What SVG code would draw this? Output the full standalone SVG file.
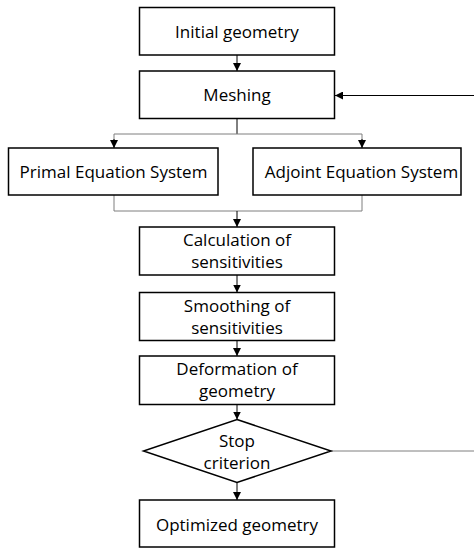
<svg xmlns="http://www.w3.org/2000/svg" width="474" height="548" viewBox="0 0 474 548">
<style>
.box{fill:#fff;stroke:#000;stroke-width:1.5}
.t{font-family:"Open Sans","Liberation Sans",sans-serif;font-size:17px;fill:#000;text-anchor:middle}
.c{fill:none;stroke:#000;stroke-width:1}
.g{fill:none;stroke:#7f7f7f;stroke-width:1}
</style>
<defs>
<marker id="ah" viewBox="0 0 8 8" refX="8" refY="4" markerWidth="8" markerHeight="8" markerUnits="userSpaceOnUse" orient="auto">
<path d="M0,0 L8,4 L0,8 Z" fill="#000"/>
</marker>
</defs>
<rect width="474" height="548" fill="#fff"/>
<g id="connectors">
<line class="c" x1="237" y1="55" x2="237" y2="71" marker-end="url(#ah)"/>
<line class="c" x1="474" y1="95.5" x2="335" y2="95.5" marker-end="url(#ah)"/>
<line class="c" x1="237" y1="118.5" x2="237" y2="134"/>
<polyline class="g" points="114,147 114,134 362,134 362,147"/>
<line class="c" x1="114" y1="139" x2="114" y2="148" marker-end="url(#ah)"/>
<line class="c" x1="362" y1="139" x2="362" y2="148" marker-end="url(#ah)"/>
<polyline class="g" points="114,195 114,211 362,211 362,195"/>
<line class="c" x1="237" y1="211" x2="237" y2="227" marker-end="url(#ah)"/>
<line class="c" x1="237" y1="275" x2="237" y2="292.5" marker-end="url(#ah)"/>
<line class="c" x1="237" y1="340.5" x2="237" y2="356" marker-end="url(#ah)"/>
<line class="c" x1="237" y1="404.5" x2="237" y2="419.5" marker-end="url(#ah)"/>
<line class="c" x1="237" y1="482.5" x2="237" y2="500" marker-end="url(#ah)"/>
<line class="g" x1="331" y1="451" x2="474" y2="451"/>
</g>
<g id="initial">
<rect class="box" x="139.5" y="7.5" width="195" height="47.5"/>
<text class="t" x="237" y="37.5">Initial geometry</text>
</g>
<g id="meshing">
<rect class="box" x="139.5" y="71" width="195" height="47.5"/>
<text class="t" x="237" y="101">Meshing</text>
</g>
<g id="primal">
<rect class="box" x="8.5" y="148" width="209.5" height="47"/>
<text class="t" x="113.5" y="178">Primal Equation System</text>
</g>
<g id="adjoint">
<rect class="box" x="253" y="148" width="208" height="47"/>
<text class="t" x="361.5" y="178">Adjoint Equation System</text>
</g>
<g id="calc">
<rect class="box" x="139.5" y="227" width="195" height="48"/>
<text class="t" x="237" y="245.5">Calculation of</text>
<text class="t" x="237" y="268">sensitivities</text>
</g>
<g id="smooth">
<rect class="box" x="139.5" y="292.5" width="195" height="48"/>
<text class="t" x="237" y="311.5">Smoothing of</text>
<text class="t" x="237" y="334">sensitivities</text>
</g>
<g id="deform">
<rect class="box" x="139.5" y="356" width="195" height="48.5"/>
<text class="t" x="237" y="375">Deformation of</text>
<text class="t" x="237" y="396.5">geometry</text>
</g>
<g id="stop">
<polygon class="box" points="237,419.5 331,451 237,482.5 143.5,451"/>
<text class="t" x="237" y="446.5">Stop</text>
<text class="t" x="237" y="469">criterion</text>
</g>
<g id="optimized">
<rect class="box" x="139.5" y="500" width="195" height="47"/>
<text class="t" x="237" y="531">Optimized geometry</text>
</g>
</svg>
